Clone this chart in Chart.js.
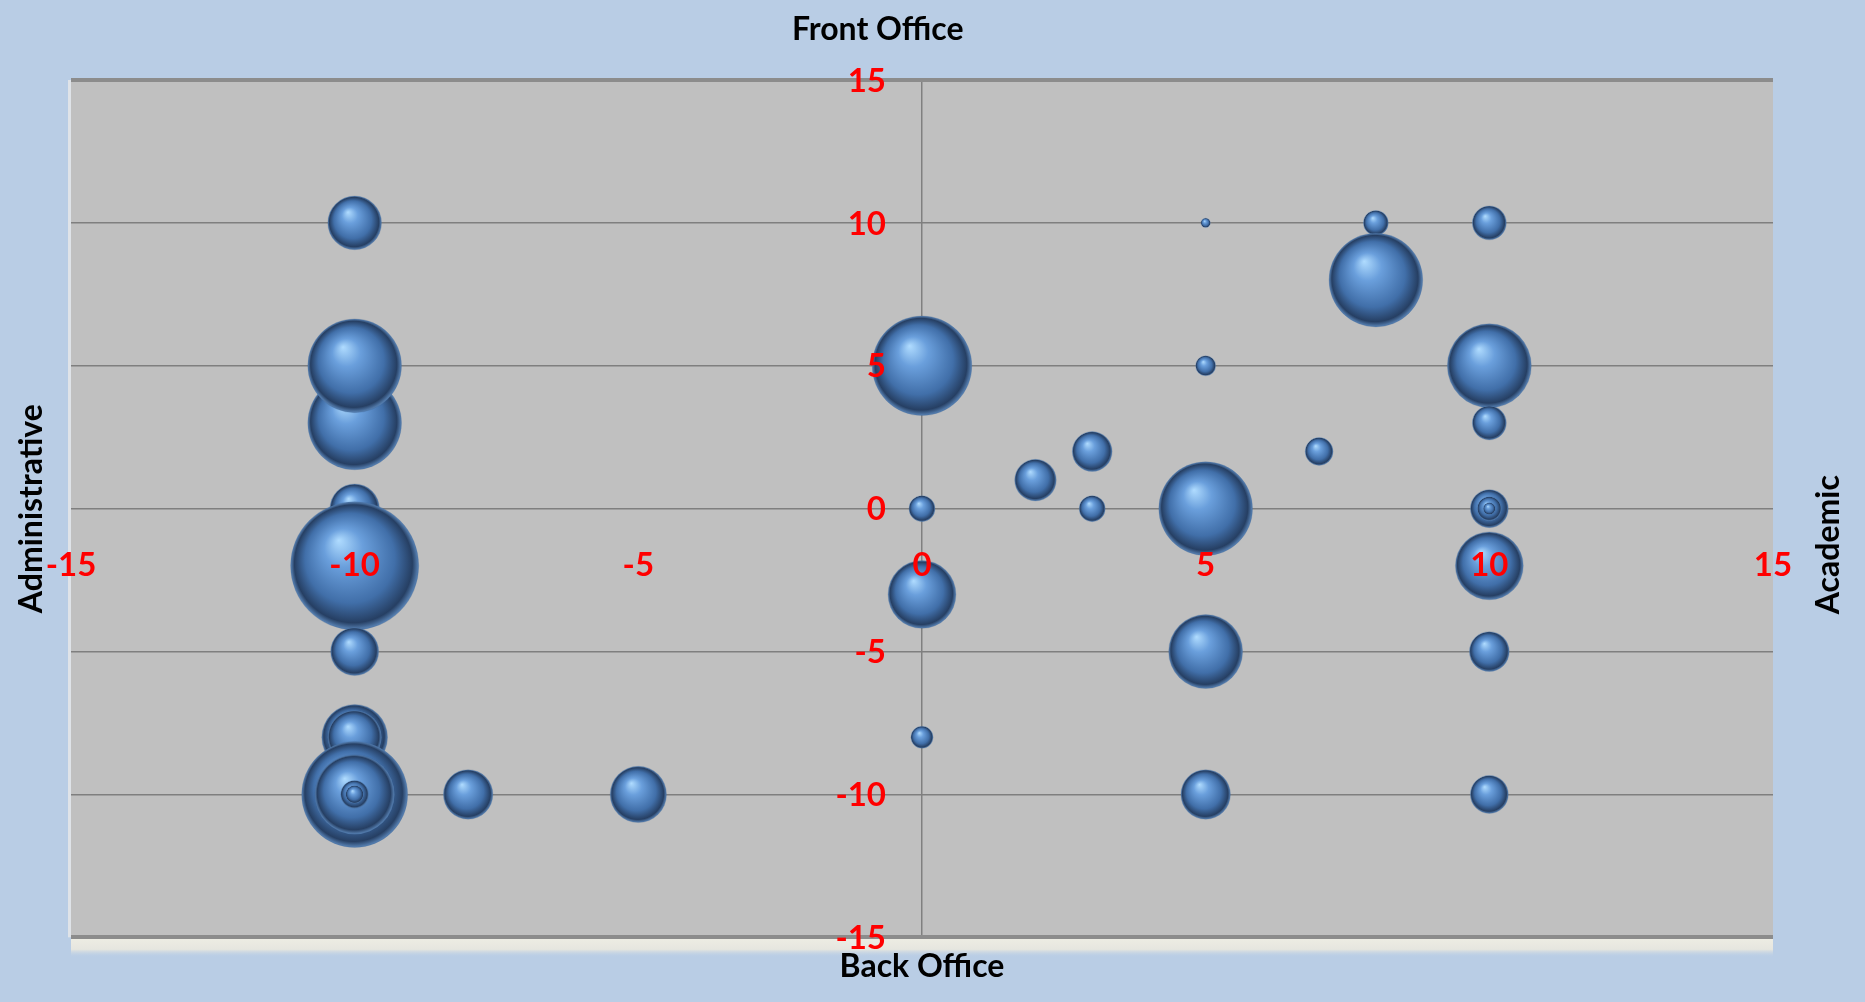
<!DOCTYPE html>
<html>
<head>
<meta charset="utf-8">
<title>Front Office / Back Office bubble chart</title>
<script src="https://cdn.jsdelivr.net/npm/chart.js@4.4.1/dist/chart.umd.min.js"></script>
<style>
  html, body { margin: 0; padding: 0; background: #b9cde5; overflow: hidden; }
  canvas { display: block; }
</style>
</head>
<body>
<canvas id="bubbles" width="1865" height="1002"></canvas>
<script>
// bubble data, in drawing order (later ones sit on top)
var xValues    = [-10, -10, -10, -10, -10, -10, -10, -10, -10, -10, -10, -10, -8, -5,  0,   0,  0,  0,  2,  3,   3,   5,   5,  5,  5,   5,   7,   8,  8, 10, 10, 10, 10, 10, 10, 10, 10,  10];
var yValues    = [ 10,   3,   5,   0,  -2,  -5,  -8,  -8, -10, -10, -10, -10,-10,-10,  5,   0, -3, -8,  1,  2,   0,  10,   5,  0, -5, -10,   2,  10,  8, 10,  5,  3,  0,  0,  0, -2, -5, -10];
var sizeValues = [ 20,  61,  61,  17, 114,  16,  30,  20,  78,  44, 5.4, 2.2, 17, 22, 69, 4.7, 32,3.4, 12, 11, 4.7, 0.6, 2.8, 61, 38,  17, 5.4, 4.3, 61,  8, 49,  8, 10,  4,  1, 32, 11,  10];

var xTitle = 'Back Office';
var topTitle = 'Front Office';
var leftTitle = 'Administrative';
var rightTitle = 'Academic';

var points = [];
for (var i = 0; i < xValues.length; i++) {
  points.push({x: xValues[i], y: yValues[i], r: 6 * Math.sqrt(sizeValues[i])});
}

function ballFill(c) {
  var chart = c.chart;
  var p = c.raw;
  if (!p || !chart.scales.x || !chart.scales.y) return '#4f81bd';
  var cx = chart.scales.x.getPixelForValue(p.x);
  var cy = chart.scales.y.getPixelForValue(p.y);
  var r = p.r;
  if (!isFinite(cx) || !isFinite(cy)) return '#4f81bd';
  var g = chart.ctx.createRadialGradient(cx - 0.25 * r, cy - 0.4 * r, 0, cx, cy, r);
  g.addColorStop(0, '#b0dcff');
  g.addColorStop(0.3, '#6a9fdc');
  g.addColorStop(0.7, '#416fa9');
  g.addColorStop(0.92, '#263f63');
  g.addColorStop(1, '#5a85b8');
  return g;
}

var labelFont = 'bold 33px Lato, "Open Sans", sans-serif';
var titleFont = 'bold 32px Lato, "Open Sans", sans-serif';

var paintBack = {
  id: 'paintBack',
  beforeDraw: function(chart) {
    var ctx = chart.ctx, a = chart.chartArea;
    ctx.save();
    ctx.fillStyle = '#b9cde5';
    ctx.fillRect(0, 0, chart.width, chart.height);
    // soft strip below the plot
    var sg = ctx.createLinearGradient(0, a.bottom, 0, a.bottom + 20);
    sg.addColorStop(0, '#eeede4');
    sg.addColorStop(0.6, '#e6e6df');
    sg.addColorStop(1, 'rgba(185,205,229,0)');
    ctx.fillStyle = sg;
    ctx.fillRect(a.left, a.bottom, a.right - a.left, 20);
    ctx.fillStyle = '#dfe3e8';
    ctx.fillRect(a.left - 3, a.top, 3, a.bottom - a.top);
    ctx.fillStyle = '#c0c0c0';
    ctx.fillRect(a.left, a.top, a.right - a.left, a.bottom - a.top);
    ctx.restore();
  },
  // tick labels sit on the crossing axes, above the bubbles
  afterDatasetsDraw: function(chart) {
    var ctx = chart.ctx, xs = chart.scales.x, ys = chart.scales.y;
    var x0 = xs.getPixelForValue(0), y0 = ys.getPixelForValue(0);
    ctx.save();
    ctx.fillStyle = '#ff0000';
    ctx.font = labelFont;
    ctx.textBaseline = 'middle';
    ctx.textAlign = 'center';
    xs.ticks.forEach(function(t) {
      ctx.fillText(String(t.value), xs.getPixelForValue(t.value), y0 + 57);
    });
    ctx.textAlign = 'right';
    ys.ticks.forEach(function(t) {
      ctx.fillText(String(t.value), x0 - 36, ys.getPixelForValue(t.value) + 1);
    });
    ctx.restore();
  },
  afterDraw: function(chart) {
    var ctx = chart.ctx, a = chart.chartArea;
    ctx.save();
    ctx.fillStyle = '#000000';
    ctx.font = titleFont;
    ctx.textAlign = 'center';
    ctx.textBaseline = 'middle';
    ctx.fillText(topTitle, a.left + (a.right - a.left) * 0.474, 30);
    ctx.fillText(xTitle, (a.left + a.right) / 2, a.bottom + 29);
    ctx.translate(32, (a.top + a.bottom) / 2);
    ctx.rotate(-Math.PI / 2);
    ctx.fillText(leftTitle, 0, 0);
    ctx.restore();
    ctx.save();
    ctx.fillStyle = '#000000';
    ctx.font = titleFont;
    ctx.textAlign = 'center';
    ctx.textBaseline = 'middle';
    ctx.translate(1829, (a.top + a.bottom) / 2 + 36);
    ctx.rotate(-Math.PI / 2);
    ctx.fillText(rightTitle, 0, 0);
    ctx.restore();
  }
};

new Chart(document.getElementById('bubbles'), {
  type: 'bubble',
  data: {
    datasets: [{
      data: points,
      backgroundColor: ballFill,
      borderColor: 'rgba(40,70,115,0.3)',
      borderWidth: 0.6
    }]
  },
  options: {
    responsive: false,
    animation: false,
    devicePixelRatio: 1,
    events: [],
    layout: { padding: {left: 71, right: 92, top: 80, bottom: 39} },
    plugins: { legend: {display: false}, tooltip: {enabled: false}, title: {display: false} },
    scales: {
      x: {
        type: 'linear',
        min: -15, max: 15,
        grid: {
          drawTicks: false,
          color: function(c) { return c.tick.value === 0 ? '#808080' : 'rgba(0,0,0,0)'; },
          lineWidth: 1.5
        },
        border: { display: false },
        ticks: { stepSize: 5, display: false }
      },
      y: {
        type: 'linear',
        min: -15, max: 15,
        grid: {
          drawTicks: false,
          color: function(c) { return Math.abs(c.tick.value) === 15 ? '#8c8c8c' : '#7f7f7f'; },
          lineWidth: function(c) { return Math.abs(c.tick.value) === 15 ? 4 : 1.5; }
        },
        border: { display: false },
        ticks: { stepSize: 5, display: false }
      }
    }
  },
  plugins: [paintBack]
});
</script>
</body>
</html>
